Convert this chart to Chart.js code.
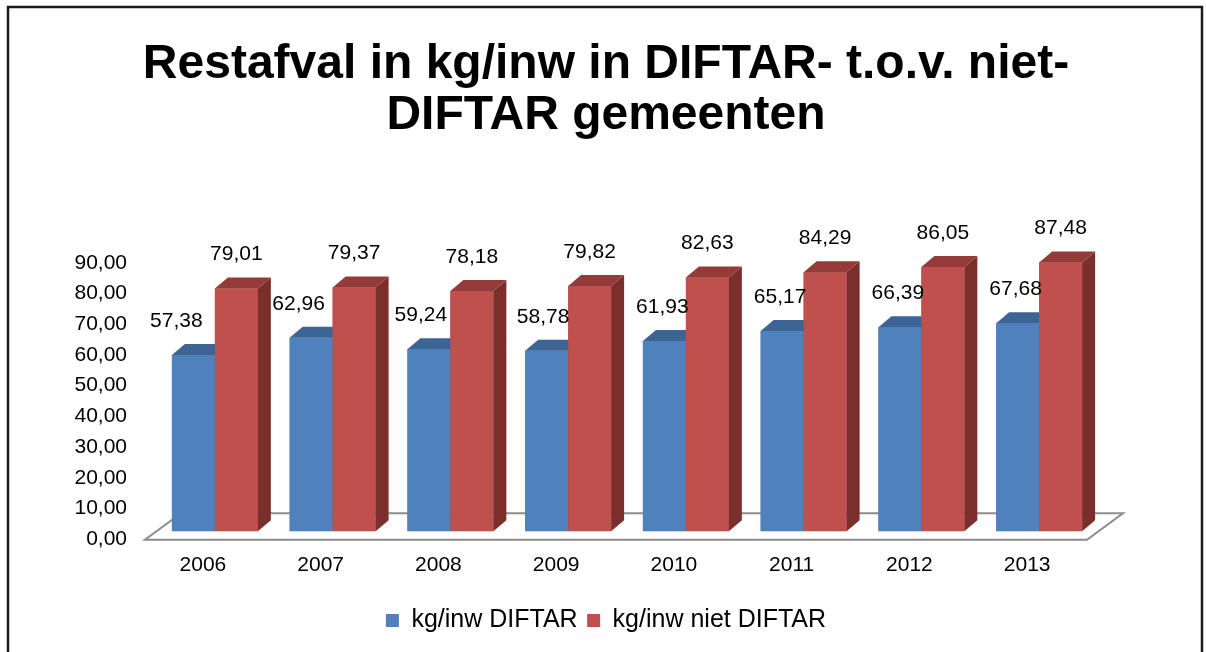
<!DOCTYPE html>
<html>
<head>
<meta charset="utf-8">
<script src="https://cdn.jsdelivr.net/npm/chart.js@4"></script>
<style>
  html, body { margin: 0; padding: 0; background: #fff; }
  #wrap { width: 1206px; height: 652px; position: relative; }
</style>
</head>
<body>
<div id="wrap"><canvas id="afvalChart"></canvas></div>
<script>
const years = ["2006", "2007", "2008", "2009", "2010", "2011", "2012", "2013"];
const diftar = [57.38, 62.96, 59.24, 58.78, 61.93, 65.17, 66.39, 67.68];
const nietDiftar = [79.01, 79.37, 78.18, 79.82, 82.63, 84.29, 86.05, 87.48];
const yTicks = [0, 10, 20, 30, 40, 50, 60, 70, 80, 90];

const seriesNames = ["kg/inw DIFTAR", "kg/inw niet DIFTAR"];
const frontColors = ["#4F81BD", "#C0504D"];
const topColors = ["#3C6494", "#943A38"];
const sideColors = ["#37577F", "#7A2F2D"];

const fmt = (v) => v.toFixed(2).replace(".", ",");

Chart.defaults.font.family = "'Liberation Sans', Arial, sans-serif";
Chart.defaults.color = "#000";

// depth of the fake 3d bars
const DX = 13;
const DY = 11;

const floorPlugin = {
  id: "floor",
  beforeDatasetsDraw(chart) {
    const { ctx, chartArea } = chart;
    const fy = chartArea.bottom + 8.5;
    const by = chartArea.bottom - 18;
    const fl = chartArea.left - 11;
    const fr = chartArea.right - 11;
    ctx.save();
    ctx.beginPath();
    ctx.moveTo(fl, fy);
    ctx.lineTo(fr, fy);
    ctx.lineTo(fr + 36, by);
    ctx.lineTo(fl + 36, by);
    ctx.closePath();
    ctx.fillStyle = "#fff";
    ctx.fill();
    ctx.strokeStyle = "#8c8c8c";
    ctx.lineWidth = 2;
    ctx.stroke();
    ctx.restore();
  },
};

// redraw each bar left to right with a top and a side face,
// so the red front hides the blue side like in excel
const bars3d = {
  id: "bars3d",
  afterDatasetsDraw(chart) {
    const { ctx } = chart;
    const metas = chart.data.datasets.map((ds, i) => chart.getDatasetMeta(i));
    ctx.save();
    years.forEach((year, k) => {
      metas.forEach((meta, i) => {
        const el = meta.data[k];
        el.draw(ctx);
        const x0 = el.x - el.width / 2;
        const x1 = el.x + el.width / 2;
        const y = el.y;
        const b = el.base;
        ctx.beginPath();
        ctx.moveTo(x1, y);
        ctx.lineTo(x1 + DX, y - DY);
        ctx.lineTo(x1 + DX, b - DY);
        ctx.lineTo(x1, b);
        ctx.closePath();
        ctx.fillStyle = sideColors[i];
        ctx.fill();
        ctx.beginPath();
        ctx.moveTo(x0, y);
        ctx.lineTo(x1, y);
        ctx.lineTo(x1 + DX, y - DY);
        ctx.lineTo(x0 + DX, y - DY);
        ctx.closePath();
        ctx.fillStyle = topColors[i];
        ctx.fill();
      });
    });
    ctx.restore();
  },
};

const valueLabels = {
  id: "valueLabels",
  afterDatasetsDraw(chart) {
    const { ctx } = chart;
    ctx.save();
    ctx.font = "21px 'Liberation Sans', Arial, sans-serif";
    ctx.fillStyle = "#000";
    ctx.textAlign = "center";
    ctx.textBaseline = "middle";
    chart.data.datasets.forEach((ds, d) => {
      chart.getDatasetMeta(d).data.forEach((el, k) => {
        // excel nudges the first blue labels to the left
        const shift = d === 0 ? Math.min(-2, -17 + 4.5 * k) : 0;
        ctx.fillText(fmt(ds.data[k]), el.x + shift, el.y - 34);
      });
    });
    ctx.restore();
  },
};

const frame = {
  id: "frame",
  afterDraw(chart) {
    const { ctx } = chart;
    ctx.save();
    ctx.strokeStyle = "#1a1a1a";
    ctx.lineWidth = 2.5;
    ctx.strokeRect(8, 7, 1194, 660);
    ctx.restore();
  },
};

const ctx = document.getElementById("afvalChart").getContext("2d");
const afvalChart = new Chart(ctx, {
  type: "bar",
  data: {
    labels: years,
    datasets: [
      {
        label: seriesNames[0],
        data: diftar,
        backgroundColor: frontColors[0],
        borderWidth: 0,
      },
      {
        label: seriesNames[1],
        data: nietDiftar,
        backgroundColor: frontColors[1],
        borderWidth: 0,
      },
    ],
  },
  options: {
    responsive: true,
    maintainAspectRatio: false,
    animation: false,
    categoryPercentage: 0.73,
    barPercentage: 1.0,
    layout: {
      padding: { top: 10, left: 114, right: 108, bottom: 9 },
    },
    scales: {
      x: {
        grid: { display: false, drawTicks: false },
        border: { display: false },
        ticks: {
          font: { size: 21 },
          padding: 21,
          labelOffset: -12,
        },
      },
      y: {
        min: 0,
        max: 90,
        afterFit: (scale) => {
          scale.width = 42;
        },
        afterBuildTicks: (scale) => {
          scale.ticks = yTicks.map((v) => ({ value: v }));
        },
        grid: { display: false, drawTicks: false },
        border: { display: false },
        ticks: {
          font: { size: 21 },
          mirror: true,
          crossAlign: "far",
          padding: -81.5,
          labelOffset: 8,
          callback: (v) => fmt(v),
        },
      },
    },
    plugins: {
      title: {
        display: true,
        text: ["Restafval in kg/inw in DIFTAR- t.o.v. niet-", "DIFTAR gemeenten"],
        font: { size: 48, weight: "bold", lineHeight: 1.05 },
        color: "#000",
        padding: { top: 30, bottom: 114 },
      },
      legend: {
        position: "bottom",
        labels: {
          font: { size: 25 },
          boxWidth: 13,
          boxHeight: 13,
          padding: 9.5,
          color: "#000",
        },
      },
      tooltip: { enabled: false },
    },
  },
  plugins: [floorPlugin, bars3d, valueLabels, frame],
});
</script>
</body>
</html>
